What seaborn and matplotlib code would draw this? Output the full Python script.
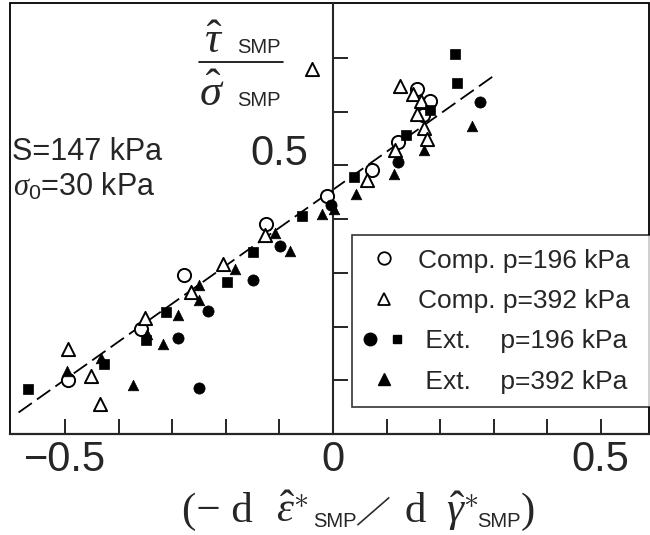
import numpy as np
import matplotlib
matplotlib.use("Agg")
import matplotlib.pyplot as plt
from matplotlib.lines import Line2D
from matplotlib.legend_handler import HandlerTuple
from matplotlib.patches import Rectangle
import seaborn as sns

# --- data ---
comp196_x = [-0.494, -0.358, -0.279, -0.125, -0.012, 0.072, 0.121, 0.157, 0.181, 0.168]
comp196_y = [0.100, 0.196, 0.296, 0.391, 0.442, 0.492, 0.543, 0.642, 0.619, 0.593]

comp392_x = [-0.494, -0.451, -0.435, -0.351, -0.265, -0.206, -0.127, -0.040,
             0.063, 0.116, 0.125, 0.150, 0.165, 0.156, 0.170, 0.176]
comp392_y = [0.159, 0.108, 0.055, 0.215, 0.265, 0.316, 0.371, 0.680,
             0.472, 0.528, 0.647, 0.633, 0.619, 0.595, 0.570, 0.549]

ext196c_x = [-0.290, -0.250, -0.234, -0.150, -0.098, -0.004, 0.122, 0.274]
ext196c_y = [0.179, 0.085, 0.229, 0.286, 0.350, 0.426, 0.506, 0.618]

ext196s_x = [-0.570, -0.428, -0.349, -0.311, -0.198, -0.150, -0.058, 0.040,
             0.137, 0.181, 0.228, 0.231]
ext196s_y = [0.083, 0.131, 0.175, 0.227, 0.282, 0.339, 0.405, 0.478,
             0.557, 0.602, 0.707, 0.653]

ext392_x = [-0.497, -0.433, -0.374, -0.348, -0.318, -0.290, -0.250, -0.251,
            -0.182, -0.108, -0.080, -0.021, 0.002, 0.043, 0.114, 0.170, 0.259]
ext392_y = [0.118, 0.141, 0.091, 0.187, 0.167, 0.221, 0.277, 0.249,
            0.307, 0.374, 0.340, 0.409, 0.418, 0.446, 0.484, 0.528, 0.574]

fit_x = [-0.587, 0.298]
fit_y = [0.040, 0.665]

xticks = [-0.5, -0.4, -0.3, -0.2, -0.1, 0.0, 0.1, 0.2, 0.3, 0.4, 0.5]
xticklabels = ["\u22120.5", "", "", "", "", "0", "", "", "", "", "0.5"]
yticks = [0.1, 0.2, 0.3, 0.4, 0.5, 0.6, 0.7]
yticklabels = ["", "", "", "", "0.5", "", ""]

legend_labels = ["Comp. p=196 kPa", "Comp. p=392 kPa",
                 " Ext.    p=196 kPa", " Ext.    p=392 kPa"]

sns.set_style("white")
plt.rcParams["font.family"] = ["Liberation Sans", "DejaVu Sans"]
plt.rcParams["mathtext.fontset"] = "custom"
plt.rcParams["mathtext.rm"] = "Liberation Serif"
plt.rcParams["mathtext.it"] = "Liberation Serif:italic"
plt.rcParams["mathtext.sf"] = "Liberation Sans"

W, H = 650, 535
fig = plt.figure(figsize=(W / 100, H / 100), dpi=100)
ax = fig.add_axes([10 / W, 101 / H, 639 / W, 431 / H])


def ftext(x, y, s, **kw):
    # place text by pixel position (from top-left) of the figure
    return fig.text(x / W, 1 - y / H, s, **kw)


# fitted line
sns.lineplot(x=fit_x, y=fit_y, ax=ax, color="black", linewidth=1.3,
             dashes=False, zorder=1)
ax.lines[-1].set_dashes((9, 3.5))

# data points
sns.scatterplot(x=comp196_x, y=comp196_y, ax=ax, marker="o", s=90,
                facecolor="white", edgecolor="black", linewidth=1.4, zorder=3)
sns.scatterplot(x=comp392_x, y=comp392_y, ax=ax, marker="^", s=90,
                facecolor="white", edgecolor="black", linewidth=1.4, zorder=3)
sns.scatterplot(x=ext196c_x, y=ext196c_y, ax=ax, marker="o", s=65,
                color="black", edgecolor="black", linewidth=0.5, zorder=4)
sns.scatterplot(x=ext196s_x, y=ext196s_y, ax=ax, marker="s", s=55,
                color="black", edgecolor="black", linewidth=0.5, zorder=4)
sns.scatterplot(x=ext392_x, y=ext392_y, ax=ax, marker="^", s=58,
                color="black", edgecolor="black", linewidth=0.5, zorder=4)

ax.set_xlim(-0.603, 0.590)
ax.set_ylim(0, 0.802)

# spines: y axis sits at x=0, frame drawn separately
for side in ["top", "right"]:
    ax.spines[side].set_visible(False)
ax.spines["left"].set_position(("data", 0))
ax.spines["left"].set_linewidth(1.5)
ax.spines["bottom"].set_linewidth(1.6)
ax.add_patch(Rectangle((0, 0), 1, 1, transform=ax.transAxes, fill=False,
                       edgecolor="black", linewidth=1.3, clip_on=False, zorder=0))

ax.set_xticks(xticks)
ax.set_xticklabels(xticklabels)
ax.set_yticks(yticks)
ax.set_yticklabels(yticklabels)
ax.tick_params(axis="x", bottom=True, direction="in", length=11, width=1.2,
               labelsize=30, pad=4, color="black")
ax.tick_params(axis="y", left=True, direction="in", length=11, width=1.2,
               labelsize=30, pad=18, color="black")
for lab in ax.get_yticklabels():
    lab.set_va("baseline")

# x axis title, built from pieces so the SMP subscripts stay small
serif = "Liberation Serif"
ftext(182, 522, "(\u2212 d", family=serif, fontsize=31, va="baseline")
ftext(276, 522, r"$\hat{\varepsilon}^{\ast}$", fontsize=31, va="baseline")
ftext(313, 527, "SMP", fontsize=14.5, va="baseline")
ftext(373, 511, "\u2014", family=serif, fontsize=30, rotation=41,
      ha="center", va="center")
ftext(405, 522, "d", family=serif, fontsize=31, va="baseline")
ftext(446, 522, r"$\hat{\gamma}^{\ast}$", fontsize=31, va="baseline")
ftext(477, 527, "SMP", fontsize=14.5, va="baseline")
ftext(521, 522, ")", family=serif, fontsize=31, va="baseline")

# y axis title: tau over sigma with small SMP subscripts
ftext(204, 53, r"$\hat{\tau}$", fontsize=32, va="baseline")
ftext(237, 53, "SMP", fontsize=14.5, va="baseline")
fig.add_artist(Line2D([199 / W, 283 / W], [1 - 62 / H, 1 - 62 / H],
                      color="black", linewidth=1.2))
ftext(199, 106, r"$\hat{\sigma}$", fontsize=32, va="baseline")
ftext(237, 106, "SMP", fontsize=14.5, va="baseline")

ax.text(0.003, 0.654, "S=147 kPa", transform=ax.transAxes,
        ha="left", va="center", fontsize=22)
ax.text(0.005, 0.573, r"$\sigma_{\mathsf{0}}$=30 kPa", transform=ax.transAxes,
        ha="left", va="center", fontsize=22)

# legend
h1 = Line2D([], [], marker="o", linestyle="none", markersize=9,
            markerfacecolor="white", markeredgecolor="black", markeredgewidth=1.3)
h2 = Line2D([], [], marker="^", linestyle="none", markersize=9,
            markerfacecolor="white", markeredgecolor="black", markeredgewidth=1.3)
h3a = Line2D([], [], marker="o", linestyle="none", markersize=9, color="black")
h3b = Line2D([], [], marker="s", linestyle="none", markersize=6, color="black")
h4 = Line2D([], [], marker="^", linestyle="none", markersize=8, color="black")
leg = ax.legend([h1, h2, (h3a, h3b), h4], legend_labels,
                handler_map={tuple: HandlerTuple(ndivide=None, pad=0.7)},
                loc="lower left", bbox_to_anchor=(0.535, 0.063, 0.468, 0.399),
                mode="expand", fontsize=19, frameon=True, fancybox=False,
                edgecolor="black", borderpad=0.5, labelspacing=0.62,
                handlelength=1.4, handletextpad=0.6, borderaxespad=0)
leg.get_frame().set_linewidth(1.2)
leg.set_zorder(5)

fig.savefig("out.png", dpi=100, facecolor="white")
